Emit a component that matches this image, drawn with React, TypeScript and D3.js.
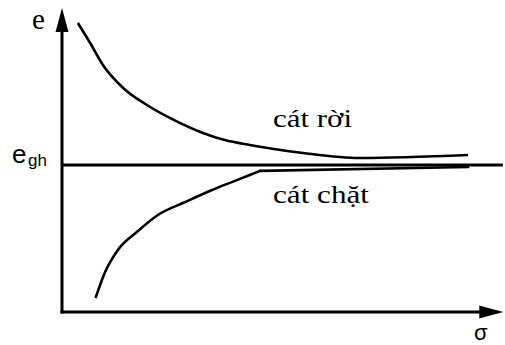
import React from "react";
import * as d3 from "d3";

// Loose sand (cát rời): void ratio e vs stress σ
const looseSigma = [0.36, 0.64, 0.93, 1.39, 1.93, 2.45, 3.2, 3.7, 4.27, 5.48, 6.77, 9.23];
const looseE = [0.983, 0.915, 0.84, 0.762, 0.704, 0.66, 0.609, 0.585, 0.568, 0.541, 0.524, 0.534];
// Dense sand (cát chặt)
const denseSigma = [0.77, 0.98, 1.27, 1.7, 2.18, 2.8, 3.41, 3.93, 4.5, 9.23];
const denseE = [0.051, 0.136, 0.211, 0.272, 0.33, 0.374, 0.415, 0.446, 0.48, 0.493];
// Critical void ratio
const eCritical = 0.5;
const labels = { loose: "cát rời", dense: "cát chặt", yAxis: "e", xAxis: "σ", crit: "e", critSub: "gh" };

const W = 505;
const H = 345;

export default function App() {
  const x = d3.scaleLinear().domain([0, 10]).range([62, 502]);
  const y = d3.scaleLinear().domain([0, 1]).range([312, 18]);

  const smooth = d3
    .line<[number, number]>()
    .x((d) => x(d[0]))
    .y((d) => y(d[1]))
    .curve(d3.curveMonotoneX);
  const poly = d3
    .line<[number, number]>()
    .x((d) => x(d[0]))
    .y((d) => y(d[1]))
    .curve(d3.curveLinear);

  const loose = looseSigma.map((s, i) => [s, looseE[i]] as [number, number]);
  const dense = denseSigma.map((s, i) => [s, denseE[i]] as [number, number]);
  const denseHead = dense.slice(0, dense.length - 1);
  const denseTail = dense.slice(dense.length - 2);

  const x0 = x(0);
  const y0 = y(0);
  const yTop = y(1.034);
  const xEnd = x(10.03);

  return (
    <svg
      width={W}
      height={H}
      style={{ position: "absolute", left: 0, top: 0, background: "#fff" }}
    >
      {/* axes */}
      <line x1={x0} y1={y0 + 1.5} x2={x0} y2={yTop + 20} stroke="#000" strokeWidth={3} />
      <polygon points={`${x0},${yTop} ${x0 - 6.5},${yTop + 24} ${x0 + 6.5},${yTop + 24}`} fill="#000" />
      <line x1={x0 - 1.5} y1={y0} x2={xEnd - 20} y2={y0} stroke="#000" strokeWidth={3} />
      <polygon points={`${xEnd},${y0} ${xEnd - 24},${y0 - 6.5} ${xEnd - 24},${y0 + 6.5}`} fill="#000" />

      {/* critical line */}
      <line x1={x0} y1={y(eCritical)} x2={x(10.02)} y2={y(eCritical)} stroke="#000" strokeWidth={3} />

      {/* curves */}
      <path d={smooth(loose) || ""} fill="none" stroke="#000" strokeWidth={2.6} strokeLinejoin="round" />
      <path d={smooth(denseHead) || ""} fill="none" stroke="#000" strokeWidth={2.6} strokeLinejoin="round" strokeLinecap="round" />
      <path d={poly(denseTail) || ""} fill="none" stroke="#000" strokeWidth={2.6} strokeLinejoin="round" strokeLinecap="round" />

      {/* labels */}
      <text x={273} y={127} fontFamily="'Liberation Serif', 'Times New Roman', serif" fontSize={26} textLength={79} lengthAdjust="spacingAndGlyphs">
        {labels.loose}
      </text>
      <text x={273} y={203} fontFamily="'Liberation Serif', 'Times New Roman', serif" fontSize={26} textLength={96} lengthAdjust="spacingAndGlyphs">
        {labels.dense}
      </text>
      <text x={32} y={29} fontFamily="'Liberation Serif', 'Times New Roman', serif" fontSize={29}>
        {labels.yAxis}
      </text>
      <text x={12} y={163} fontFamily="'Liberation Sans', Arial, sans-serif" fontSize={26}>
        {labels.crit}
      </text>
      <text x={28} y={166} fontFamily="'Liberation Sans', Arial, sans-serif" fontSize={17}>
        {labels.critSub}
      </text>
      <text x={474} y={340} fontFamily="'Liberation Sans', Arial, sans-serif" fontSize={22}>
        {labels.xAxis}
      </text>
    </svg>
  );
}
